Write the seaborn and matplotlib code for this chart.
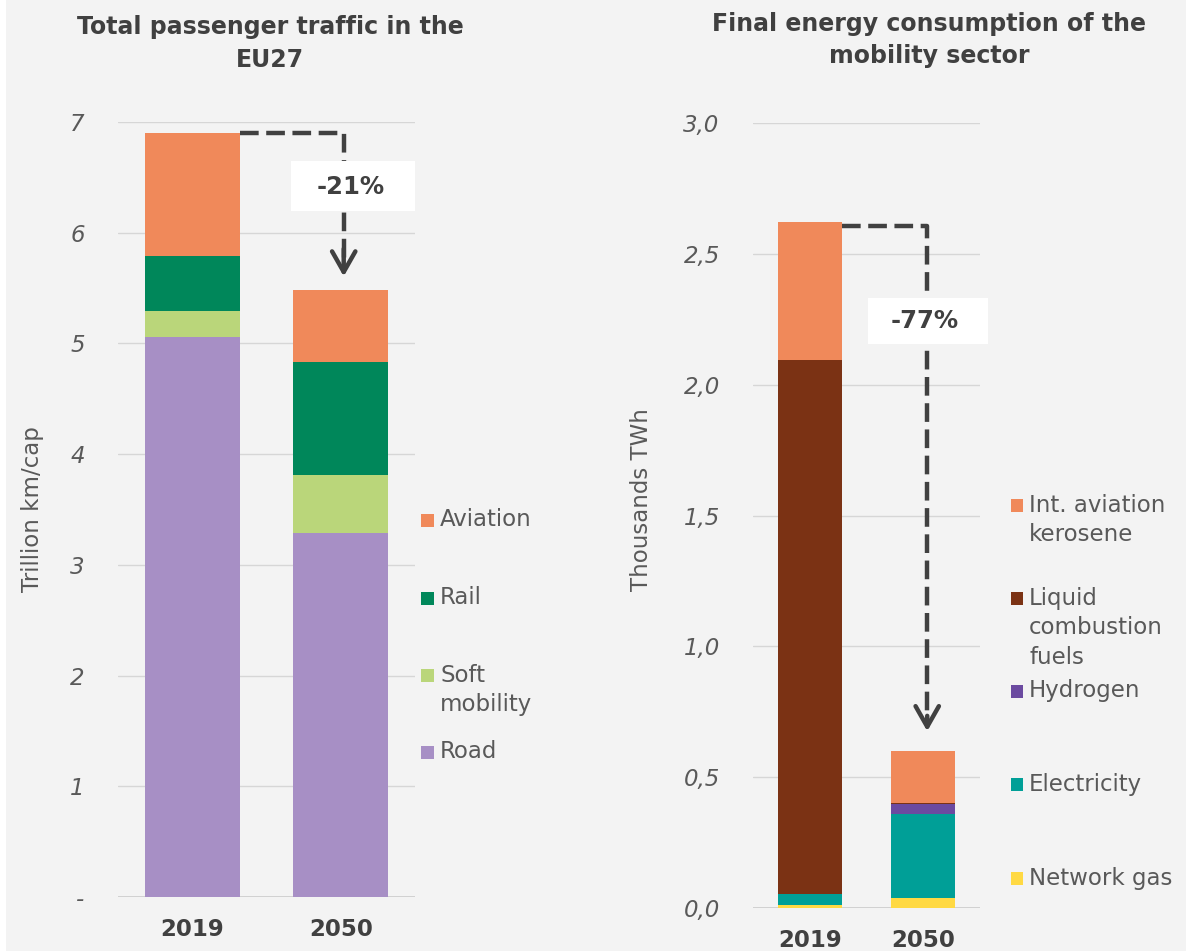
import numpy as np
import matplotlib
matplotlib.use("Agg")
import matplotlib.pyplot as plt
from matplotlib.patches import Rectangle
import seaborn as sns

# ---------------------------------------------------------------- data
years = ["2019", "2050"]

# Passenger traffic, trillion km/cap (stacked bottom -> top)
road = [5.06, 3.29]
soft_mobility = [0.23, 0.52]
rail = [0.50, 1.02]
aviation = [1.11, 0.65]
traffic_labels = ["Road", "Soft\nmobility", "Rail", "Aviation"]
traffic_change = "-21%"

# Final energy consumption, thousands TWh (stacked bottom -> top)
network_gas = [0.011, 0.039]
electricity = [0.041, 0.322]
hydrogen = [0.0, 0.035]
liquid_fuels = [2.042, 0.006]
aviation_kerosene = [0.526, 0.198]
energy_labels = ["Network gas", "Electricity", "Hydrogen",
                 "Liquid\ncombustion\nfuels", "Int. aviation\nkerosene"]
energy_change = "-77%"

traffic_ticks = [0, 1, 2, 3, 4, 5, 6, 7]
traffic_ticklabels = ["-", "1", "2", "3", "4", "5", "6", "7"]
energy_ticks = [0.0, 0.5, 1.0, 1.5, 2.0, 2.5, 3.0]
energy_ticklabels = ["0,0", "0,5", "1,0", "1,5", "2,0", "2,5", "3,0"]

# ---------------------------------------------------------------- style
traffic_colors = ["#A78FC5", "#BAD67A", "#00875A", "#F0895A"]
energy_colors = ["#FFD943", "#009F97", "#6B4AA0", "#7B3214", "#F0895A"]
BG = "#F3F3F3"
DARK = "#404040"
GREY = "#595959"
GRID = "#D6D6D6"
FS = 16.5

sns.set_theme(style="white")
plt.rcParams["font.family"] = ["DejaVu Sans"]

W, H = 1186, 951
fig = plt.figure(figsize=(W / 100, H / 100), dpi=100, facecolor=BG)
fig.patches.append(Rectangle((0, 0), 6 / W, 1, transform=fig.transFigure,
                             facecolor="white", edgecolor="none", zorder=-5))


def fx(px):
    return px / W


def fy(py):
    return 1 - py / H


ax1 = fig.add_axes([fx(118), fy(897), 297 / W, 775 / H])
ax2 = fig.add_axes([fx(753), fy(908), 227 / W, 785 / H])


def stacked_bars(ax, layers, colors, width):
    bottom = np.zeros(len(years))
    for vals, col in zip(layers, colors):
        sns.barplot(x=years, y=vals, order=years, color=col, width=width,
                    saturation=1, errorbar=None, bottom=bottom.copy(),
                    linewidth=0, ax=ax, zorder=2)
        bottom += np.asarray(vals, dtype=float)
    return bottom


def style_axis(ax, ticks, ticklabels, ymax, ylabel, label_xy):
    ax.set_facecolor(BG)
    ax.set_xlim(-0.5, 1.5)
    ax.set_ylim(0, ymax)
    ax.set_yticks(ticks)
    ax.set_yticklabels(ticklabels, fontsize=FS, color=GREY, fontstyle="italic")
    ax.tick_params(axis="y", length=0, pad=24)
    ax.tick_params(axis="x", length=0, pad=15)
    for lab in ax.get_xticklabels():
        lab.set_fontsize(FS)
        lab.set_fontweight("bold")
        lab.set_color(DARK)
    ax.yaxis.grid(True, color=GRID, linewidth=1.0, zorder=0)
    ax.xaxis.grid(False)
    ax.set_axisbelow(True)
    for s in ax.spines.values():
        s.set_visible(False)
    ax.axhline(0, color="#CCCCCC", linewidth=1.2, zorder=1)
    ax.set_xlabel("")
    ax.set_ylabel(ylabel, fontsize=FS, color=GREY)
    ax.yaxis.set_label_coords(*label_xy)


def change_arrow(ax, x0, xc, ytop, ytip, head_len, box, text_xy, text):
    ax.plot([x0, xc, xc], [ytop, ytop, ytip + head_len * 0.6], color=DARK,
            linewidth=3.2, dashes=(4.2, 1.7), solid_capstyle="butt",
            zorder=4, clip_on=False)
    ax.annotate("", xy=(xc, ytip), xytext=(xc, ytip + head_len),
                arrowprops=dict(arrowstyle="->,head_length=0.74,head_width=0.42",
                                mutation_scale=20, color=DARK, linewidth=3.2),
                zorder=4, annotation_clip=False)
    bx0, by0, bx1, by1 = box
    ax.add_patch(Rectangle((bx0, by0), bx1 - bx0, by1 - by0, facecolor="white",
                           edgecolor="none", zorder=5, clip_on=False))
    ax.text(*text_xy, text, ha="center", va="center", fontsize=17.5,
            fontweight="bold", color=DARK, zorder=6, clip_on=False)


# ---------------------------------------------------------------- left panel
tot_traffic = stacked_bars(ax1, [road, soft_mobility, rail, aviation],
                           traffic_colors, 0.64)
style_axis(ax1, traffic_ticks, traffic_ticklabels, 7, "Trillion km/cap",
           (-0.25, 0.5))
change_arrow(ax1, 0.32, 1.02, tot_traffic[0], tot_traffic[1] + 0.1, 0.3,
             (0.666, 6.20, 1.497, 6.65), (1.07, 6.41), traffic_change)

# ---------------------------------------------------------------- right panel
tot_energy = stacked_bars(ax2, [network_gas, electricity, hydrogen,
                                liquid_fuels, aviation_kerosene],
                          energy_colors, 0.565)
style_axis(ax2, energy_ticks, energy_ticklabels, 3.0, "Thousands TWh",
           (-0.44, 0.52))
change_arrow(ax2, 0.2825, 1.035, tot_energy[0] - 0.012, tot_energy[1] + 0.065,
             0.08, (0.513, 2.156, 1.574, 2.332), (1.009, 2.244), energy_change)

# ---------------------------------------------------------------- titles
fig.text(fx(270), fy(15), "Total passenger traffic in the\nEU27", ha="center",
         va="top", fontsize=17, fontweight="bold", color=DARK, linespacing=1.45)
fig.text(fx(929), fy(12), "Final energy consumption of the\nmobility sector",
         ha="center", va="top", fontsize=17, fontweight="bold", color=DARK,
         linespacing=1.4)


# ---------------------------------------------------------------- legends
def legend(labels, colors, sq_x, text_x, first_line_y, line_gap=29.5):
    for lab, col, y0 in zip(labels, colors, first_line_y):
        fig.patches.append(Rectangle((fx(sq_x), fy(y0 + 6.5)), 12.5 / W, 12.5 / H,
                                     transform=fig.transFigure, facecolor=col,
                                     edgecolor="none"))
        for i, line in enumerate(lab.split("\n")):
            fig.text(fx(text_x), fy(y0 + i * line_gap), line, ha="left",
                     va="center", fontsize=FS, color=GREY)


legend(traffic_labels[::-1], traffic_colors[::-1], 421, 440,
       [520, 598, 675, 752])
legend(energy_labels[::-1], energy_colors[::-1], 1010.5, 1029,
       [505, 598, 691, 784, 878])

fig.savefig("out.png", dpi=100, facecolor=BG)
